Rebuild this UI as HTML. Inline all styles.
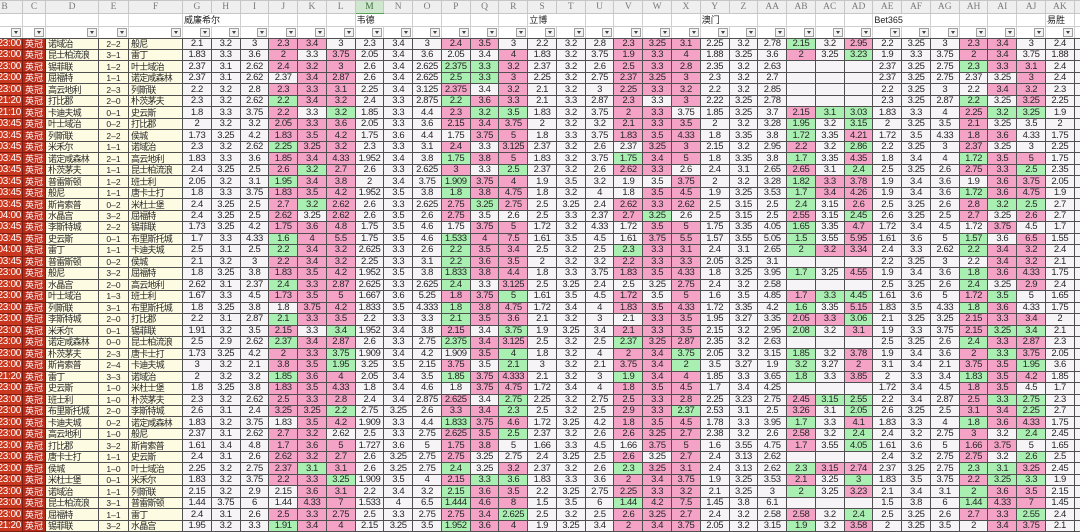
<!DOCTYPE html>
<html><head><meta charset="utf-8">
<style>
html,body{margin:0;padding:0}
body{width:1080px;height:528px;overflow:hidden;position:relative;background:#fff}
table{position:absolute;left:-14px;top:0;border-collapse:collapse;table-layout:fixed;width:1118px}
td{padding:0;border:1px solid #505050;background:#f6f4f7;color:#262626;font-family:"Liberation Sans",sans-serif;font-size:9.5px;letter-spacing:-0.4px;line-height:10px;text-align:center;white-space:nowrap;overflow:hidden}
tr.d{height:11.486px}
td.p{background:#f4a3c7}
td.g{background:#a9efb1}
td.t{background:#c9371e;color:#fff;text-align:right;padding-right:1px;font-size:10px;letter-spacing:-0.3px;border-color:#7a1c10}
td.l{background:#b92c1a;color:#fff;font-family:"Liberation Sans","Noto Sans CJK SC",sans-serif;font-size:9px;letter-spacing:0;border-color:#7a1c10}
td.n{background:#fdfce3;text-align:left;padding-left:2px;font-family:"Liberation Sans","Noto Sans CJK SC",sans-serif;font-size:9px;letter-spacing:-0.8px}
td.s{background:#fdfce3;font-size:8.5px;letter-spacing:0}
tr.h{height:13px}
tr.h td{background:#efefef;border-color:#c6c6c6;color:#7a7a7a;font-family:"Liberation Serif",serif;font-size:9.5px;letter-spacing:0}
tr.h td.m{background:#cfe6cf;color:#3d6e3d;border-bottom:1px solid #5aa05a}
tr.h2{height:13px}
tr.h2 td{background:#fff;border-color:#cfcfcf;text-align:left;padding-left:1px;font-family:"Liberation Sans","Noto Sans CJK SC",sans-serif;font-size:9px;letter-spacing:0;color:#222}
tr.h3{height:11.5px}
tr.h3 td{background:#fff;border-color:#cfcfcf;border-bottom-color:#505050}
tr.h3 b{float:right;width:8px;height:7px;margin:1px 1px 0 0;border:1px solid #a0a0a0;background:#f3f3f3;position:relative}
tr.h3 b:after{content:"";position:absolute;left:2px;top:2px;border-top:3px solid #444;border-left:2px solid transparent;border-right:2px solid transparent}
</style></head><body>
<table>
<colgroup><col style="width:36px"><col style="width:23px"><col style="width:53px"><col style="width:30px"><col style="width:54px">
<col style="width:28.77px"><col style="width:28.77px"><col style="width:28.77px"><col style="width:28.77px"><col style="width:28.77px"><col style="width:28.77px">
<col style="width:28.77px"><col style="width:28.77px"><col style="width:28.77px"><col style="width:28.77px"><col style="width:28.77px"><col style="width:28.77px">
<col style="width:28.77px"><col style="width:28.77px"><col style="width:28.77px"><col style="width:28.77px"><col style="width:28.77px"><col style="width:28.77px">
<col style="width:28.77px"><col style="width:28.77px"><col style="width:28.77px"><col style="width:28.77px"><col style="width:28.77px"><col style="width:28.77px">
<col style="width:28.77px"><col style="width:28.77px"><col style="width:28.77px"><col style="width:28.77px"><col style="width:28.77px"><col style="width:28.77px">
<col style="width:28.77px"><col style="width:30px"></colgroup>
<tr class=h><td>B<td>C<td>D<td>E<td>F<td>G<td>H<td>I<td>J<td>K<td>L<td class=m>M<td>N<td>O<td>P<td>Q<td>R<td>S<td>T<td>U<td>V<td>W<td>X<td>Y<td>Z<td>AA<td>AB<td>AC<td>AD<td>AE<td>AF<td>AG<td>AH<td>AI<td>AJ<td>AK<td></tr>
<tr class=h2><td><td><td><td><td><td colspan=2>威廉希尔<td><td><td><td><td colspan=2>韦德<td><td><td><td><td colspan=2>立博<td><td><td><td><td colspan=2>澳门<td><td><td><td><td colspan=2>Bet365<td><td><td><td><td>易胜<td></tr>
<tr class=h3><td><b></b><td><b></b><td><b></b><td><b></b><td><b></b><td><b></b><td><b></b><td><b></b><td><b></b><td><b></b><td><b></b><td><b></b><td><b></b><td><b></b><td><b></b><td><b></b><td><b></b><td><b></b><td><b></b><td><b></b><td><b></b><td><b></b><td><b></b><td><b></b><td><b></b><td><b></b><td><b></b><td><b></b><td><b></b><td><b></b><td><b></b><td><b></b><td><b></b><td><b></b><td><b></b><td><b></b><td></tr>
<tr class=d><td class=t>23:00<td class=l>英冠<td class=n>诺域治<td class=s>2–2<td class=n>般尼<td>2.1<td>3.2<td>3<td class=p>2.3<td class=p>3.4<td>3<td>2.3<td>3.4<td>3<td class=p>2.4<td class=p>3.5<td>3<td>2.2<td>3.2<td>2.8<td class=p>2.3<td class=p>3.25<td class=p>3.1<td>2.25<td>3.2<td>2.78<td class=g>2.15<td>3.2<td class=p>2.95<td>2.2<td>3.25<td>3<td class=p>2.3<td class=p>3.4<td>3<td>2.4<td></tr>
<tr class=d><td class=t>23:00<td class=l>英冠<td class=n>昆士柏流浪<td class=s>3–1<td class=n>雷丁<td>1.83<td>3.3<td>3.6<td class=p>2<td>3.3<td class=p>3.75<td>2.05<td>3.4<td>3.6<td>2.05<td>3.4<td class=p>4<td>1.83<td>3.2<td>3.75<td class=p>1.9<td class=p>3.3<td class=p>4<td>1.88<td>3.25<td>3.6<td class=p>2<td>3.25<td class=g>3.23<td>1.9<td>3.3<td>3.75<td class=p>2<td class=p>3.4<td>3.75<td>1.88<td></tr>
<tr class=d><td class=t>23:00<td class=l>英冠<td class=n>锡菲联<td class=s>1–2<td class=n>叶士域治<td>2.37<td>3.1<td>2.62<td class=p>2.4<td class=p>3.2<td class=p>3<td>2.6<td>3.4<td>2.625<td class=g>2.375<td class=g>3.3<td class=p>3.2<td>2.37<td>3.2<td>2.6<td class=p>2.5<td class=p>3.3<td class=p>2.8<td>2.35<td>3.2<td>2.63<td><td><td><td>2.37<td>3.25<td>2.75<td class=g>2.3<td class=p>3.3<td class=p>3.1<td>2.4<td></tr>
<tr class=d><td class=t>23:00<td class=l>英冠<td class=n>屈福特<td class=s>1–1<td class=n>诺定咸森林<td>2.37<td>3.1<td>2.62<td>2.37<td class=p>3.4<td class=p>2.87<td>2.6<td>3.4<td>2.625<td class=g>2.5<td class=g>3.3<td class=p>3<td>2.25<td>3.2<td>2.75<td class=p>2.37<td class=p>3.25<td class=p>3<td>2.3<td>3.2<td>2.7<td><td><td><td>2.37<td>3.25<td>2.75<td>2.37<td>3.25<td class=p>3<td>2.4<td></tr>
<tr class=d><td class=t>23:00<td class=l>英冠<td class=n>高云地利<td class=s>2–3<td class=n>列斯联<td>2.2<td>3.2<td>2.8<td class=p>2.3<td class=p>3.3<td class=p>3.1<td>2.25<td>3.4<td>3.125<td class=p>2.375<td>3.4<td class=p>3.2<td>2.1<td>3.2<td>3<td class=p>2.25<td class=p>3.3<td class=p>3.2<td>2.2<td>3.2<td>2.85<td><td><td><td>2.2<td>3.25<td>3<td>2.2<td class=p>3.4<td class=p>3.2<td>2.3<td></tr>
<tr class=d><td class=t>21:20<td class=l>英冠<td class=n>打比郡<td class=s>2–0<td class=n>朴茨茅夫<td>2.3<td>3.2<td>2.62<td class=g>2.2<td class=p>3.4<td class=p>3.2<td>2.4<td>3.3<td>2.875<td class=g>2.2<td class=p>3.6<td class=p>3.3<td>2.1<td>3.3<td>2.87<td class=p>2.3<td>3.3<td class=p>3<td>2.22<td>3.25<td>2.78<td><td><td><td>2.3<td>3.25<td>2.87<td class=g>2.2<td>3.25<td class=p>3.25<td>2.25<td></tr>
<tr class=d><td class=t>21:10<td class=l>英冠<td class=n>卡迪夫城<td class=s>0–1<td class=n>史云斯<td>1.8<td>3.3<td>3.75<td class=p>2.2<td>3.3<td class=g>3.2<td>1.85<td>3.3<td>4.4<td class=p>2.3<td class=g>3.2<td class=g>3.5<td>1.83<td>3.2<td>3.75<td class=p>2<td class=p>3.3<td>3.75<td>1.85<td>3.25<td>3.7<td class=p>2.15<td class=g>3.1<td class=g>3.03<td>1.83<td>3.3<td>4<td class=p>2.25<td class=g>3.2<td class=g>3.25<td>1.9<td></tr>
<tr class=d><td class=t>03:45<td class=l>英冠<td class=n>叶士域治<td class=s>0–2<td class=n>打比郡<td>2<td>3.2<td>3.2<td class=p>2.05<td class=p>3.3<td class=p>3.6<td>2.05<td>3.3<td>3.6<td class=p>2.15<td class=p>3.4<td class=p>3.75<td>2<td>3.2<td>3.2<td class=p>2.1<td class=p>3.3<td class=p>3.5<td>2<td>3.2<td>3.28<td class=g>1.95<td>3.2<td class=g>3.15<td>2<td>3.25<td>3.5<td class=p>2.1<td>3.25<td>3.5<td>2<td></tr>
<tr class=d><td class=t>03:45<td class=l>英冠<td class=n>列斯联<td class=s>2–2<td class=n>侯城<td>1.73<td>3.25<td>4.2<td class=p>1.83<td class=p>3.5<td class=p>4.2<td>1.75<td>3.6<td>4.4<td>1.75<td class=p>3.75<td class=p>5<td>1.8<td>3.3<td>3.75<td class=p>1.83<td class=p>3.5<td class=p>4.33<td>1.8<td>3.35<td>3.8<td class=g>1.72<td>3.35<td class=p>4.21<td>1.72<td>3.5<td>4.33<td class=p>1.8<td class=p>3.6<td>4.33<td>1.75<td></tr>
<tr class=d><td class=t>03:45<td class=l>英冠<td class=n>米禾尔<td class=s>1–1<td class=n>诺域治<td>2.3<td>3.2<td>2.62<td class=g>2.25<td class=p>3.25<td class=p>3.2<td>2.3<td>3.3<td>3.1<td class=p>2.4<td>3.3<td class=p>3.125<td>2.37<td>3.2<td>2.6<td>2.37<td class=p>3.25<td class=p>3<td>2.15<td>3.2<td>2.95<td class=p>2.2<td>3.2<td class=g>2.86<td>2.2<td>3.25<td>3<td class=p>2.37<td>3.25<td>3<td>2.25<td></tr>
<tr class=d><td class=t>03:45<td class=l>英冠<td class=n>诺定咸森林<td class=s>2–1<td class=n>高云地利<td>1.83<td>3.3<td>3.6<td class=p>1.85<td class=p>3.4<td class=p>4.33<td>1.952<td>3.4<td>3.8<td class=g>1.75<td class=p>3.8<td class=p>5<td>1.83<td>3.2<td>3.75<td class=g>1.75<td class=p>3.4<td class=p>5<td>1.8<td>3.35<td>3.8<td class=g>1.7<td>3.35<td class=p>4.35<td>1.8<td>3.4<td>4<td class=g>1.72<td class=p>3.5<td class=p>5<td>1.75<td></tr>
<tr class=d><td class=t>03:45<td class=l>英冠<td class=n>朴茨茅夫<td class=s>1–1<td class=n>昆士柏流浪<td>2.4<td>3.25<td>2.5<td class=p>2.6<td class=g>3.2<td class=p>2.7<td>2.6<td>3.3<td>2.625<td class=p>3<td>3.3<td class=g>2.5<td>2.37<td>3.2<td>2.6<td class=p>2.62<td class=p>3.3<td>2.6<td>2.4<td>3.1<td>2.65<td class=p>2.65<td>3.1<td class=g>2.4<td>2.5<td>3.25<td>2.6<td class=p>2.75<td class=p>3.3<td class=g>2.5<td>2.35<td></tr>
<tr class=d><td class=t>03:45<td class=l>英冠<td class=n>普雷斯顿<td class=s>1–2<td class=n>班士利<td>2.05<td>3.2<td>3.1<td class=g>1.95<td class=p>3.4<td class=p>3.8<td>2<td>3.4<td>3.75<td class=g>1.909<td class=p>3.75<td class=p>4<td>1.9<td>3.5<td>3.2<td>1.9<td>3.5<td class=p>3.75<td>2<td>3.2<td>3.28<td class=g>1.82<td class=p>3.3<td class=p>3.78<td>1.9<td>3.4<td>3.6<td>1.9<td class=p>3.6<td class=p>3.75<td>2.05<td></tr>
<tr class=d><td class=t>03:45<td class=l>英冠<td class=n>般尼<td class=s>1–1<td class=n>唐卡士打<td>1.8<td>3.3<td>3.75<td class=p>1.83<td class=p>3.5<td class=p>4.2<td>1.952<td>3.5<td>3.8<td class=g>1.8<td class=p>3.8<td class=p>4.75<td>1.8<td>3.2<td>4<td>1.8<td class=p>3.5<td class=p>4.5<td>1.9<td>3.25<td>3.53<td class=g>1.7<td class=p>3.4<td class=p>4.26<td>1.9<td>3.4<td>3.6<td class=g>1.72<td class=p>3.6<td class=p>4.75<td>1.9<td></tr>
<tr class=d><td class=t>03:45<td class=l>英冠<td class=n>斯肯索普<td class=s>0–2<td class=n>米杜士堡<td>2.4<td>3.25<td>2.5<td class=p>2.7<td class=g>3.2<td class=p>2.62<td>2.6<td>3.3<td>2.625<td class=p>2.75<td class=g>3.25<td class=p>2.75<td>2.5<td>3.25<td>2.4<td class=p>2.62<td class=p>3.3<td class=p>2.62<td>2.5<td>3.15<td>2.5<td class=g>2.4<td>3.15<td class=p>2.6<td>2.5<td>3.25<td>2.6<td class=p>2.8<td class=g>3.2<td class=g>2.5<td>2.7<td></tr>
<tr class=d><td class=t>04:00<td class=l>英冠<td class=n>水晶宫<td class=s>3–2<td class=n>屈福特<td>2.4<td>3.25<td>2.5<td class=p>2.62<td>3.25<td class=p>2.62<td>2.6<td>3.5<td>2.6<td class=p>2.75<td>3.5<td>2.6<td>2.5<td>3.3<td>2.37<td class=p>2.7<td class=g>3.25<td>2.6<td>2.5<td>3.15<td>2.5<td class=p>2.55<td>3.15<td class=g>2.45<td>2.6<td>3.25<td>2.5<td class=p>2.7<td>3.25<td class=p>2.6<td>2.7<td></tr>
<tr class=d><td class=t>03:45<td class=l>英冠<td class=n>李斯特城<td class=s>2–2<td class=n>锡菲联<td>1.73<td>3.25<td>4.2<td class=p>1.75<td class=p>3.6<td class=p>4.8<td>1.75<td>3.5<td>4.6<td>1.75<td class=p>3.75<td class=p>5<td>1.72<td>3.2<td>4.33<td>1.72<td class=p>3.5<td class=p>5<td>1.75<td>3.35<td>4.05<td class=g>1.65<td>3.35<td class=p>4.7<td>1.72<td>3.4<td>4.5<td>1.72<td class=p>3.75<td>4.5<td>1.7<td></tr>
<tr class=d><td class=t>03:45<td class=l>英冠<td class=n>史云斯<td class=s>0–1<td class=n>布里斯托城<td>1.7<td>3.3<td>4.33<td class=g>1.6<td class=p>4<td class=p>5.5<td>1.75<td>3.5<td>4.6<td class=g>1.533<td class=p>4<td class=p>7.5<td>1.61<td>3.5<td>4.5<td>1.61<td class=p>3.75<td class=p>5.5<td>1.57<td>3.55<td>5.05<td class=g>1.5<td>3.55<td class=p>5.95<td>1.61<td>3.6<td>5<td class=g>1.57<td>3.6<td class=p>6.5<td>1.55<td></tr>
<tr class=d><td class=t>04:00<td class=l>英冠<td class=n>雷丁<td class=s>1–1<td class=n>卡迪夫城<td>2.5<td>3.1<td>2.5<td class=g>2.2<td class=p>3.4<td class=p>3.2<td>2.625<td>3.3<td>2.6<td class=g>2.2<td class=p>3.5<td class=p>3.4<td>2.5<td>3.2<td>2.5<td class=g>2.3<td class=p>3.3<td class=p>3.1<td>2.4<td>3.1<td>2.65<td class=g>2<td class=p>3.2<td class=p>3.34<td>2.4<td>3.3<td>2.62<td class=g>2.2<td class=p>3.4<td class=p>3.2<td>2.4<td></tr>
<tr class=d><td class=t>03:45<td class=l>英冠<td class=n>普雷斯顿<td class=s>0–2<td class=n>侯城<td>2.1<td>3.2<td>3<td class=p>2.2<td class=p>3.4<td class=p>3.2<td>2.25<td>3.3<td>3.1<td class=g>2.2<td class=p>3.6<td class=p>3.5<td>2<td>3.2<td>3.2<td class=p>2.2<td class=p>3.3<td class=p>3.3<td>2.05<td>3.25<td>3.1<td><td><td><td>2.2<td>3.25<td>3<td>2.2<td class=p>3.4<td class=p>3.2<td>2.1<td></tr>
<tr class=d><td class=t>23:00<td class=l>英冠<td class=n>般尼<td class=s>3–2<td class=n>屈福特<td>1.8<td>3.25<td>3.8<td class=p>1.83<td class=p>3.5<td class=p>4.2<td>1.952<td>3.5<td>3.8<td class=g>1.833<td class=p>3.8<td class=p>4.4<td>1.8<td>3.3<td>3.75<td class=p>1.83<td class=p>3.5<td class=p>4.33<td>1.8<td>3.25<td>3.95<td class=g>1.7<td>3.25<td class=p>4.55<td>1.9<td>3.4<td>3.6<td class=g>1.8<td class=p>3.6<td class=p>4.33<td>1.75<td></tr>
<tr class=d><td class=t>23:00<td class=l>英冠<td class=n>水晶宫<td class=s>2–0<td class=n>高云地利<td>2.62<td>3.1<td>2.37<td class=g>2.4<td class=p>3.3<td class=p>2.87<td>2.625<td>3.3<td>2.625<td class=g>2.4<td>3.3<td class=p>3.125<td>2.5<td>3.25<td>2.4<td>2.5<td>3.25<td class=p>2.75<td>2.4<td>3.2<td>2.58<td><td><td><td>2.5<td>3.25<td>2.6<td class=g>2.4<td>3.25<td class=p>2.9<td>2.4<td></tr>
<tr class=d><td class=t>23:00<td class=l>英冠<td class=n>叶士域治<td class=s>1–3<td class=n>班士利<td>1.67<td>3.3<td>4.5<td class=p>1.73<td class=p>3.5<td class=p>5<td>1.667<td>3.6<td>5.25<td class=p>1.8<td class=p>3.75<td class=g>5<td>1.61<td>3.5<td>4.5<td class=p>1.72<td>3.5<td class=p>5<td>1.6<td>3.5<td>4.85<td class=p>1.7<td class=g>3.3<td class=g>4.45<td>1.61<td>3.6<td>5<td class=p>1.72<td class=g>3.5<td>5<td>1.65<td></tr>
<tr class=d><td class=t>23:00<td class=l>英冠<td class=n>列斯联<td class=s>3–1<td class=n>布里斯托城<td>1.8<td>3.25<td>3.8<td>1.8<td class=p>3.75<td class=p>4.2<td>1.833<td>3.5<td>4.333<td class=g>1.8<td class=p>3.8<td class=p>4.75<td>1.72<td>3.4<td>4<td class=p>1.83<td class=p>3.5<td class=p>4.33<td>1.72<td>3.35<td>4.2<td class=g>1.6<td>3.35<td class=p>5.15<td>1.83<td>3.5<td>4.33<td class=g>1.8<td class=p>3.6<td>4.33<td>1.75<td></tr>
<tr class=d><td class=t>23:00<td class=l>英冠<td class=n>李斯特城<td class=s>2–0<td class=n>打比郡<td>2.2<td>3.1<td>2.87<td class=g>2.1<td class=p>3.3<td class=p>3.5<td>2.2<td>3.3<td>3.3<td class=g>2.1<td class=p>3.5<td class=p>3.6<td>2.1<td>3.2<td>3<td>2.1<td class=p>3.3<td class=p>3.5<td>1.95<td>3.27<td>3.35<td class=p>2.05<td class=p>3.3<td class=g>3.06<td>2.1<td>3.25<td>3.25<td class=p>2.15<td class=p>3.3<td class=p>3.4<td>2<td></tr>
<tr class=d><td class=t>23:00<td class=l>英冠<td class=n>米禾尔<td class=s>0–1<td class=n>锡菲联<td>1.91<td>3.2<td>3.5<td class=p>2.15<td>3.3<td class=g>3.4<td>1.952<td>3.4<td>3.8<td class=p>2.15<td>3.4<td class=g>3.75<td>1.9<td>3.25<td>3.4<td class=p>2.1<td class=p>3.3<td class=p>3.5<td>2.15<td>3.2<td>2.95<td class=g>2.08<td>3.2<td class=p>3.1<td>1.9<td>3.3<td>3.75<td class=p>2.15<td class=g>3.25<td class=g>3.4<td>2.1<td></tr>
<tr class=d><td class=t>23:00<td class=l>英冠<td class=n>诺定咸森林<td class=s>0–0<td class=n>昆士柏流浪<td>2.5<td>2.9<td>2.62<td class=g>2.37<td class=p>3.4<td class=p>2.87<td>2.6<td>3.3<td>2.75<td class=g>2.375<td class=p>3.4<td class=p>3.125<td>2.5<td>3.2<td>2.5<td class=g>2.37<td class=p>3.25<td class=p>2.87<td>2.35<td>3.2<td>2.63<td><td><td><td>2.5<td>3.25<td>2.6<td class=g>2.4<td class=p>3.3<td class=p>2.87<td>2.3<td></tr>
<tr class=d><td class=t>23:00<td class=l>英冠<td class=n>朴茨茅夫<td class=s>2–3<td class=n>唐卡士打<td>1.73<td>3.25<td>4.2<td class=p>2<td class=p>3.3<td class=g>3.75<td>1.909<td>3.4<td>4.2<td>1.909<td class=p>3.5<td class=g>4<td>1.8<td>3.2<td>4<td class=p>2<td class=p>3.4<td class=g>3.75<td>2.05<td>3.2<td>3.15<td class=g>1.85<td>3.2<td class=p>3.78<td>1.9<td>3.4<td>3.6<td class=p>2<td class=g>3.3<td class=p>3.75<td>2.05<td></tr>
<tr class=d><td class=t>23:00<td class=l>英冠<td class=n>斯肯索普<td class=s>2–4<td class=n>卡迪夫城<td>3<td>3.2<td>2.1<td class=p>3.8<td class=p>3.5<td class=g>1.95<td>3.25<td>3.5<td>2.15<td class=p>3.75<td>3.5<td class=g>2.1<td>3<td>3.2<td>2.1<td class=p>3.75<td class=p>3.4<td class=g>2<td>3.5<td>3.27<td>1.9<td class=g>3.2<td>3.27<td class=p>2<td>3.1<td>3.4<td>2.1<td class=p>3.75<td class=p>3.5<td class=g>1.95<td>3.6<td></tr>
<tr class=d><td class=t>21:20<td class=l>英冠<td class=n>雷丁<td class=s>3–3<td class=n>诺域治<td>2<td>3.2<td>3.2<td class=g>1.85<td class=p>3.6<td class=p>4<td>2.05<td>3.4<td>3.5<td class=g>1.85<td class=p>3.75<td class=p>4.333<td>2.1<td>3.2<td>3<td class=g>1.9<td class=p>3.4<td class=p>4<td>1.85<td>3.3<td>3.65<td class=g>1.8<td>3.3<td class=p>3.85<td>2<td>3.3<td>3.4<td class=g>1.83<td class=p>3.5<td class=p>4.2<td>1.85<td></tr>
<tr class=d><td class=t>23:00<td class=l>英冠<td class=n>史云斯<td class=s>1–0<td class=n>米杜士堡<td>1.8<td>3.25<td>3.8<td class=p>1.83<td class=p>3.5<td class=p>4.33<td>1.8<td>3.4<td>4.6<td>1.8<td class=p>3.75<td class=p>4.75<td>1.72<td>3.4<td>4<td class=p>1.8<td class=p>3.5<td class=p>4.5<td>1.7<td>3.4<td>4.25<td><td><td><td>1.72<td>3.4<td>4.5<td class=p>1.8<td class=p>3.5<td>4.5<td>1.7<td></tr>
<tr class=d><td class=t>23:00<td class=l>英冠<td class=n>班士利<td class=s>1–0<td class=n>朴茨茅夫<td>2.3<td>3.2<td>2.62<td class=p>2.5<td class=p>3.3<td class=p>2.8<td>2.4<td>3.4<td>2.875<td class=p>2.625<td>3.4<td class=g>2.75<td>2.25<td>3.2<td>2.75<td class=p>2.5<td class=p>3.3<td class=p>2.8<td>2.25<td>3.23<td>2.75<td class=p>2.45<td class=g>3.15<td class=g>2.55<td>2.2<td>3.4<td>2.87<td class=p>2.5<td class=g>3.3<td class=g>2.75<td>2.3<td></tr>
<tr class=d><td class=t>23:00<td class=l>英冠<td class=n>布里斯托城<td class=s>2–0<td class=n>李斯特城<td>2.6<td>3.1<td>2.4<td class=p>3.25<td class=p>3.25<td class=g>2.2<td>2.75<td>3.25<td>2.6<td class=p>3.3<td class=p>3.4<td class=g>2.3<td>2.5<td>3.2<td>2.5<td class=p>2.9<td class=p>3.3<td class=g>2.37<td>2.53<td>3.1<td>2.5<td class=p>3.26<td>3.1<td class=g>2.05<td>2.6<td>3.25<td>2.5<td class=p>3.1<td class=p>3.4<td class=g>2.25<td>2.7<td></tr>
<tr class=d><td class=t>23:00<td class=l>英冠<td class=n>卡迪夫城<td class=s>0–2<td class=n>诺定咸森林<td>1.83<td>3.2<td>3.75<td>1.83<td class=p>3.5<td class=p>4.2<td>1.909<td>3.3<td>4.4<td class=g>1.833<td class=p>3.75<td class=p>4.6<td>1.72<td>3.25<td>4.2<td class=p>1.8<td class=p>3.5<td class=p>4.5<td>1.78<td>3.3<td>3.95<td class=g>1.7<td>3.3<td class=p>4.1<td>1.83<td>3.3<td>4<td class=g>1.8<td class=p>3.6<td class=p>4.33<td>1.75<td></tr>
<tr class=d><td class=t>23:00<td class=l>英冠<td class=n>高云地利<td class=s>1–0<td class=n>般尼<td>2.37<td>3.1<td>2.62<td class=p>2.7<td class=p>3.2<td>2.62<td>2.5<td>3.3<td>2.75<td class=p>2.625<td class=p>3.5<td class=g>2.5<td>2.37<td>3.2<td>2.6<td class=p>2.6<td class=p>3.25<td class=p>2.7<td>2.38<td>3.2<td>2.6<td class=p>2.58<td>3.2<td class=g>2.4<td>2.4<td>3.2<td>2.75<td class=p>3<td>3.2<td class=g>2.4<td>2.45<td></tr>
<tr class=d><td class=t>23:00<td class=l>英冠<td class=n>打比郡<td class=s>3–2<td class=n>斯肯索普<td>1.61<td>3.4<td>4.8<td class=p>1.7<td class=p>3.6<td class=p>5<td>1.727<td>3.6<td>5<td class=p>1.75<td class=p>3.8<td>5<td>1.66<td>3.3<td>4.5<td>1.66<td class=p>3.75<td class=p>5<td>1.6<td>3.55<td>4.75<td class=p>1.7<td>3.55<td class=g>4.05<td>1.61<td>3.6<td>5<td class=p>1.66<td class=p>3.75<td>5<td>1.65<td></tr>
<tr class=d><td class=t>23:00<td class=l>英冠<td class=n>唐卡士打<td class=s>1–1<td class=n>史云斯<td>2.4<td>3.1<td>2.6<td class=p>2.62<td class=p>3.2<td class=p>2.7<td>2.6<td>3.25<td>2.75<td class=p>2.75<td>3.25<td>2.75<td>2.4<td>3.25<td>2.5<td class=p>2.6<td>3.25<td class=p>2.7<td>2.4<td>3.13<td>2.62<td><td><td><td>2.4<td>3.2<td>2.75<td class=p>2.75<td>3.2<td class=g>2.6<td>2.5<td></tr>
<tr class=d><td class=t>23:00<td class=l>英冠<td class=n>侯城<td class=s>1–0<td class=n>叶士域治<td>2.25<td>3.2<td>2.75<td class=p>2.37<td class=g>3.1<td class=p>3.1<td>2.6<td>3.25<td>2.75<td class=g>2.4<td>3.25<td class=p>3.2<td>2.37<td>3.2<td>2.6<td class=g>2.3<td class=p>3.25<td class=p>3.1<td>2.4<td>3.13<td>2.62<td class=g>2.3<td class=p>3.15<td class=p>2.74<td>2.37<td>3.25<td>2.75<td class=g>2.3<td class=g>3.1<td class=p>3.25<td>2.45<td></tr>
<tr class=d><td class=t>23:00<td class=l>英冠<td class=n>米杜士堡<td class=s>0–1<td class=n>米禾尔<td>1.83<td>3.2<td>3.75<td class=p>2.2<td class=p>3.3<td class=g>3.25<td>1.909<td>3.5<td>4<td class=p>2.15<td class=g>3.3<td class=g>3.6<td>1.83<td>3.3<td>3.6<td class=p>2<td class=p>3.4<td class=p>3.75<td>1.9<td>3.25<td>3.53<td class=p>2.1<td>3.25<td class=g>3<td>1.83<td>3.5<td>3.75<td class=p>2.2<td class=g>3.25<td class=g>3.3<td>1.9<td></tr>
<tr class=d><td class=t>23:00<td class=l>英冠<td class=n>诺域治<td class=s>1–1<td class=n>列斯联<td>2.15<td>3.2<td>2.9<td>2.15<td class=p>3.6<td class=p>3.1<td>2.2<td>3.4<td>3.2<td class=g>2.15<td class=p>3.6<td class=p>3.5<td>2.2<td>3.25<td>2.75<td class=p>2.25<td class=p>3.3<td class=p>3.2<td>2.1<td>3.25<td>3<td class=g>2<td>3.25<td class=p>3.23<td>2.1<td>3.4<td>3.1<td class=g>2<td class=p>3.6<td class=p>3.5<td>2.15<td></tr>
<tr class=d><td class=t>23:00<td class=l>英冠<td class=n>昆士柏流浪<td class=s>3–1<td class=n>普雷斯顿<td>1.44<td>3.75<td>6<td>1.44<td class=p>4.33<td class=p>7<td>1.533<td>4<td>6.5<td class=g>1.444<td class=p>4.6<td class=p>8<td>1.5<td>3.5<td>6<td class=g>1.44<td class=p>4.2<td class=p>7.5<td>1.45<td>3.8<td>6.1<td><td><td><td>1.5<td>3.8<td>6<td class=g>1.44<td class=p>4.33<td class=p>7<td>1.45<td></tr>
<tr class=d><td class=t>23:00<td class=l>英冠<td class=n>屈福特<td class=s>1–1<td class=n>雷丁<td>2.4<td>3.1<td>2.6<td class=p>2.5<td class=p>3.3<td class=p>2.75<td>2.5<td>3.3<td>2.75<td class=p>2.75<td class=p>3.4<td class=g>2.625<td>2.5<td>3.2<td>2.5<td class=p>2.6<td class=p>3.25<td class=p>2.7<td>2.4<td>3.2<td>2.58<td class=p>2.58<td>3.2<td class=g>2.4<td>2.5<td>3.25<td>2.6<td class=p>2.7<td class=p>3.3<td class=g>2.55<td>2.4<td></tr>
<tr class=d><td class=t>21:20<td class=l>英冠<td class=n>锡菲联<td class=s>3–2<td class=n>水晶宫<td>1.95<td>3.2<td>3.3<td class=g>1.91<td class=p>3.4<td class=p>4<td>2.15<td>3.25<td>3.5<td class=g>1.952<td class=p>3.6<td class=p>4<td>1.9<td>3.25<td>3.4<td class=p>2<td class=p>3.4<td class=p>3.75<td>2.05<td>3.2<td>3.15<td class=g>1.9<td>3.2<td class=p>3.58<td>2<td>3.25<td>3.5<td>2<td class=p>3.4<td class=p>3.75<td>2.1<td></tr>
</table>
</body></html>
